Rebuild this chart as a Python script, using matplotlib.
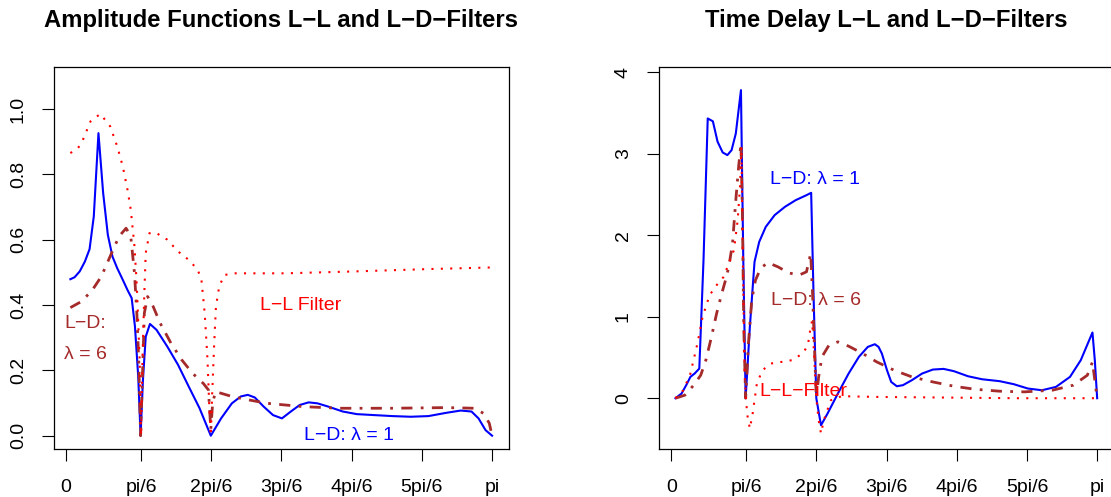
import matplotlib
matplotlib.use("Agg")
import matplotlib.pyplot as plt

plt.rcParams["font.family"] = ["Liberation Sans", "DejaVu Sans"]

# Frequency index 1..91 (0 .. pi), tick positions and labels.
tick_pos = [0, 16, 31, 46, 61, 76, 91]
tick_lab = ["0", "pi/6", "2pi/6", "3pi/6", "4pi/6", "5pi/6", "pi"]

# Amplitude, L-D filter lambda=1 (blue solid).
amp_ld1_x = [0.9, 1.8, 2.9, 4.0, 5.0, 5.9, 6.9, 7.9, 8.9, 9.9, 10.9, 12.1, 13.1, 14.0, 14.7, 15.4,
             15.9, 16.4, 17.0, 17.9, 19.3, 21.6, 23.9, 26.2, 28.5, 30.9, 33.1, 35.4, 37.3, 38.8, 40.3,
             42.2, 44.2, 46.1, 48.0, 49.9, 51.8, 53.7, 56.0, 59.1, 62.1, 65.9, 69.7, 73.6, 77.4,
             81.2, 84.3, 86.6, 88.1, 89.6, 91.0]
amp_ld1_y = [0.479, 0.485, 0.503, 0.533, 0.571, 0.671, 0.926, 0.743, 0.615, 0.548, 0.513, 0.477,
             0.446, 0.421, 0.334, 0.18, 0.0, 0.17, 0.303, 0.342, 0.324, 0.273, 0.217, 0.15, 0.084,
             0.0, 0.053, 0.099, 0.12, 0.125, 0.117, 0.089, 0.063, 0.053, 0.074, 0.094, 0.102, 0.099,
             0.089, 0.074, 0.066, 0.063, 0.06, 0.058, 0.06, 0.070, 0.077, 0.074, 0.053, 0.017, 0.0]

# Amplitude, L-D filter lambda=6 (brown dash-dot).
amp_ld6_x = [0.9, 3.3, 5.6, 7.5, 9.4, 11.3, 12.8, 13.8, 14.6, 15.1, 15.5, 15.9, 16.3, 16.7, 17.4,
             18.6, 20.1, 22.4, 24.7, 27.0, 29.3, 30.4, 30.9, 31.3, 31.9, 35.4, 39.2, 43.0, 46.8,
             50.6, 58.3, 69.7, 81.2, 87.3, 89.2, 90.4, 91.0]
amp_ld6_y = [0.392, 0.411, 0.446, 0.487, 0.549, 0.61, 0.635, 0.61, 0.497, 0.375, 0.232, 0.0, 0.18,
             0.375, 0.426, 0.395, 0.344, 0.283, 0.232, 0.191, 0.16, 0.14, 0.02, 0.1, 0.135, 0.12,
             0.109, 0.099, 0.094, 0.089, 0.084, 0.084, 0.086, 0.084, 0.068, 0.038, 0.0]

# Amplitude, L-L filter (red dotted).
amp_ll_x = [0.9, 2.5, 3.3, 5.2, 7.3, 9.4, 10.9, 12.1, 13.1, 13.8, 14.6, 15.1, 15.7, 16.0, 16.3,
            16.7, 17.0, 17.8, 19.3, 21.6, 23.9, 26.2, 28.1, 28.9, 29.6, 30.2, 30.6, 30.9, 31.2,
            31.6, 32.0, 32.7, 33.8, 36.1, 46.8, 62.1, 77.4, 91.0]
amp_ll_y = [0.865, 0.88, 0.896, 0.962, 0.985, 0.947, 0.886, 0.824, 0.753, 0.692, 0.579, 0.457,
            0.232, 0.0, 0.232, 0.436, 0.559, 0.62, 0.62, 0.6, 0.564, 0.538, 0.508, 0.477, 0.375,
            0.232, 0.079, 0.0, 0.13, 0.273, 0.395, 0.457, 0.492, 0.497, 0.497, 0.503, 0.51, 0.515]

# Time delay, L-D filter lambda=1 (blue solid).
td_ld1_x = [0.9, 2.2, 3.2, 4.1, 5.0, 6.0, 6.9, 7.8, 8.9, 9.9, 11.0, 12.0, 12.9, 13.8, 14.9, 15.4,
            15.9, 16.8, 17.8, 18.8, 20.2, 22.1, 24.3, 26.6, 28.9, 29.9, 30.4, 31.0, 32.0, 33.4,
            35.6, 37.9, 40.1, 42.0, 43.5, 44.3, 45.0, 46.1, 47.0, 48.2, 49.5, 51.4, 53.6, 55.9,
            58.2, 60.4, 63.4, 66.4, 70.2, 73.2, 76.2, 79.2, 82.2, 85.2, 87.5, 89.0, 90.0, 90.5, 91.0]
td_ld1_y = [0.0, 0.057, 0.16, 0.262, 0.303, 0.364, 1.695, 3.435, 3.40, 3.15, 3.017, 2.985, 3.046,
            3.25, 3.783, 1.695, 0.0, 0.876, 1.675, 1.92, 2.104, 2.248, 2.35, 2.432, 2.493, 2.522,
            1.286, 0.0, -0.332, -0.188, 0.057, 0.303, 0.508, 0.63, 0.663, 0.63, 0.549, 0.344, 0.2,
            0.147, 0.16, 0.221, 0.303, 0.352, 0.36, 0.332, 0.27, 0.233, 0.209, 0.172, 0.119, 0.098,
            0.139, 0.262, 0.467, 0.671, 0.807, 0.467, 0.0]

# Time delay, L-D filter lambda=6 (brown dash-dot).
td_ld6_x = [0.9, 2.9, 4.8, 6.3, 7.4, 8.6, 9.7, 10.8, 11.6, 12.3, 13.1, 13.8, 14.4, 14.9, 15.2,
            15.5, 15.9, 16.5, 17.2, 18.0, 19.1, 20.6, 22.8, 25.1, 27.3, 28.9, 29.8, 30.2, 30.7,
            31.0, 31.5, 32.2, 33.7, 35.6, 37.9, 40.9, 43.9, 47.6, 51.4, 55.9, 60.4, 64.9, 70.2,
            75.4, 81.4, 85.9, 88.9, 90.0, 90.5, 91.0]
td_ld6_y = [0.0, 0.037, 0.16, 0.282, 0.467, 0.753, 1.04, 1.286, 1.449, 1.613, 1.9, 2.432, 2.841,
            3.128, 2.309, 0.876, 0.0, 0.671, 1.204, 1.449, 1.593, 1.666, 1.613, 1.539, 1.511,
            1.552, 1.777, 1.286, 0.467, 0.0, 0.262, 0.508, 0.651, 0.692, 0.639, 0.549, 0.446,
            0.344, 0.262, 0.2, 0.147, 0.11, 0.086, 0.078, 0.098, 0.16, 0.282, 0.446, 0.221, 0.0]

# Time delay, L-L filter (red dotted).
td_ll_x = [0.9, 2.6, 4.1, 5.6, 6.7, 8.2, 9.7, 11.2, 12.3, 13.4, 14.2, 14.7, 15.0, 15.3, 15.7,
           16.2, 16.8, 17.4, 18.3, 19.5, 21.3, 23.6, 25.8, 28.1, 29.2, 29.8, 30.1, 30.4, 31.0,
           31.5, 32.0, 32.6, 34.1, 36.4, 43.9, 58.9, 73.9, 89.7, 91.0]
td_ll_y = [0.0, 0.098, 0.303, 0.671, 0.999, 1.265, 1.388, 1.49, 1.654, 1.818, 2.186, 2.596, 3.087,
           1.695, 0.262, -0.188, -0.373, -0.188, 0.18, 0.344, 0.426, 0.446, 0.467, 0.549, 0.651,
           0.876, 0.95, 0.671, 0.0, -0.27, -0.434, -0.27, -0.025, 0.025, 0.016, 0.008, 0.0, 0.0, 0.0]

blue = "#0000FF"
brown = "#A52A2A"
red = "#FF0000"
dotdash = (0, (4, 3, 1, 3))
dotted = (0, (1, 3.5))


def style_axes(ax):
    ax.set_xlim(-2.6, 94.6)
    ax.set_xticks(tick_pos)
    ax.set_xticklabels(tick_lab)
    ax.tick_params(direction="out", length=8.5, width=0.8, labelsize=14, pad=11)
    ax.tick_params(axis="x", pad=13)
    ax.tick_params(axis="y", labelrotation=90)
    for lab in ax.get_yticklabels():
        lab.set_verticalalignment("center")
    for s in ax.spines.values():
        s.set_linewidth(0.9)


fig = plt.figure(figsize=(11.11, 4.97), dpi=100)

# Panel 1: amplitude functions.
ax1 = fig.add_axes([0.0486, 0.096, 0.4095, 0.7686])
ax1.plot(amp_ld1_x, amp_ld1_y, color=blue, lw=1.5)
ax1.plot(amp_ld6_x, amp_ld6_y, color=brown, lw=2, linestyle=dotdash)
ax1.plot(amp_ll_x, amp_ll_y, color=red, lw=1.5, linestyle=dotted)
ax1.set_ylim(-0.0416, 1.1276)
ax1.set_yticks([0.0, 0.2, 0.4, 0.6, 0.8, 1.0])
ax1.set_yticklabels(["0.0", "0.2", "0.4", "0.6", "0.8", "1.0"])
style_axes(ax1)
ax1.text(50, 0.40, "L\u2212L Filter", color=red, fontsize=14, ha="center", va="center")
ax1.text(4.05, 0.344, "L\u2212D:", color=brown, fontsize=14, ha="center", va="center")
ax1.text(4.05, 0.25, "\u03bb = 6", color=brown, fontsize=14, ha="center", va="center")
ax1.text(60.5, 0.0, "L\u2212D: \u03bb = 1", color=blue, fontsize=14, ha="center", va="center")
ax1.text(0.5, 1.123, "Amplitude Functions L\u2212L and L\u2212D\u2212Filters", transform=ax1.transAxes,
         fontsize=17.2, fontweight="bold", ha="center", va="center")

# Panel 2: time delays.
ax2 = fig.add_axes([0.5932, 0.096, 0.4095, 0.7686])
ax2.plot(td_ld1_x, td_ld1_y, color=blue, lw=1.5)
ax2.plot(td_ld6_x, td_ld6_y, color=brown, lw=2, linestyle=dotdash)
ax2.plot(td_ll_x, td_ll_y, color=red, lw=1.5, linestyle=dotted)
ax2.set_ylim(-0.627, 4.063)
ax2.set_yticks([0, 1, 2, 3, 4])
style_axes(ax2)
ax2.text(30.8, 2.68, "L\u2212D: \u03bb = 1", color=blue, fontsize=14, ha="center", va="center")
ax2.text(31.0, 1.195, "L\u2212D: \u03bb = 6", color=brown, fontsize=14, ha="center", va="center")
ax2.text(28.2, 0.077, "L\u2212L\u2212Filter", color=red, fontsize=14, ha="center", va="center")
ax2.text(0.5, 1.123, "Time Delay L\u2212L and L\u2212D\u2212Filters", transform=ax2.transAxes,
         fontsize=17.2, fontweight="bold", ha="center", va="center")

fig.savefig("out.png", dpi=100)
